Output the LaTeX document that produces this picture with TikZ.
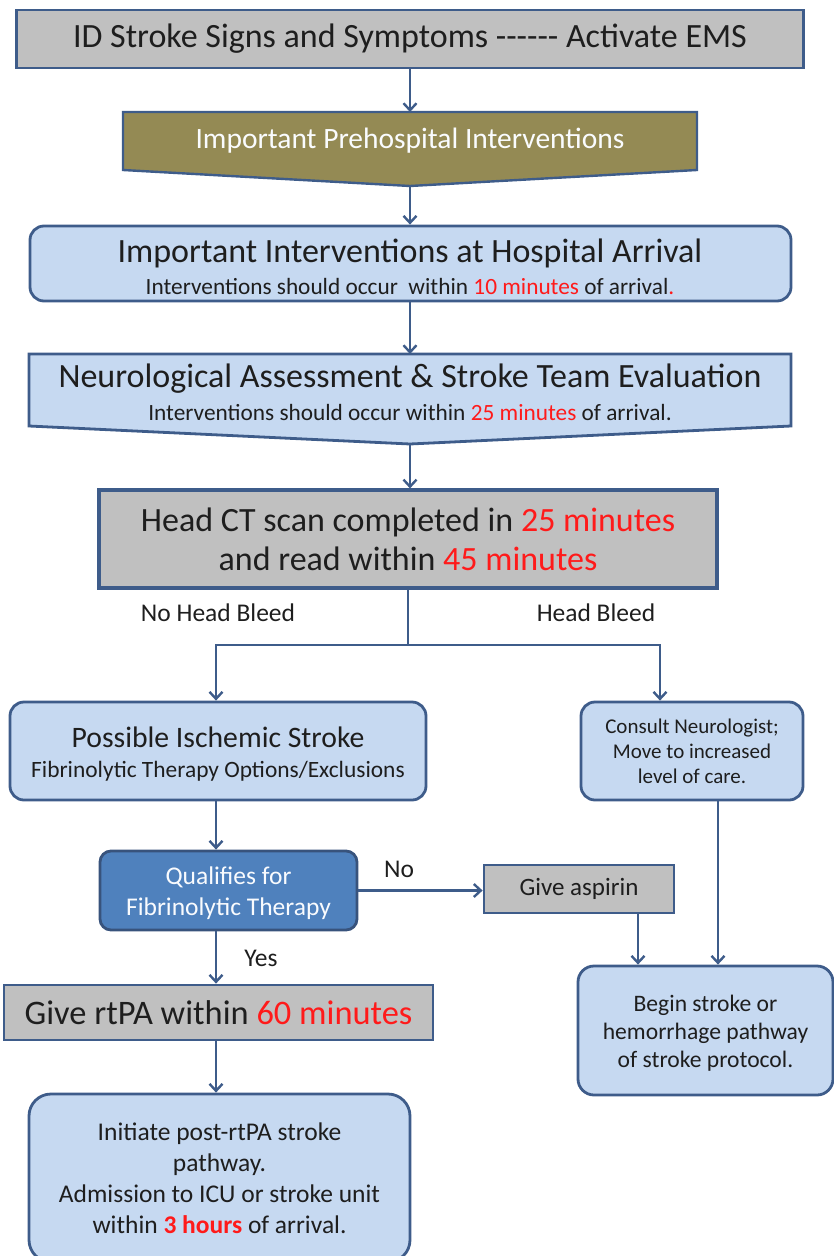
\documentclass[tikz,border=0pt]{standalone}
\usepackage{fontspec}
\setmainfont{Carlito}
\usetikzlibrary{arrows.meta}
\definecolor{edge}{HTML}{3E5C8A}
\definecolor{paleblue}{HTML}{C6D9F1}
\definecolor{greybox}{HTML}{C0C0C0}
\definecolor{olivebox}{HTML}{948A54}
\definecolor{midblue}{HTML}{4F81BD}
\definecolor{alert}{HTML}{FF1A1A}
\definecolor{ink}{HTML}{1E1E1E}
% font size with a chosen line pitch
\newcommand{\fs}[2]{\fontsize{#1}{#2}\selectfont}
\begin{document}
\begin{tikzpicture}[x=1pt,y=-1pt,
  frame/.style={draw=edge, line width=2.8pt, inner sep=0pt, align=center, text=ink},
  greyrect/.style={frame, fill=greybox},
  bluerounded/.style={frame, fill=paleblue, rounded corners=14pt},
  flow/.style={draw=edge, line width=2.4pt, -{Straight Barb[length=7pt,width=13pt]}},
  plain/.style={draw=edge, line width=2.4pt},
  words/.style={inner sep=0pt, text=ink, align=center},
  tag/.style={words, font=\fs{25.5}{26}},
]
\useasboundingbox (0,0) rectangle (834,1256);
\clip (0,0) rectangle (834,1256);

% column positions of the vertical connectors
\coordinate (colL) at (216,0);
\coordinate (colM) at (410,0);
\coordinate (colH) at (660,0);
\coordinate (colA) at (638,0);
\coordinate (colR) at (718,0);

% top banner
\node[greyrect, minimum width=787pt, minimum height=58pt, font=\fs{34}{34}] (ems) at (410,39)
  {ID Stroke Signs and Symptoms -{}-{}-{}-{}-{}- Activate EMS};

% prehospital chevron
\path[fill=olivebox, draw=edge, line width=2.4pt]
  (123,112) -- (697,112) -- (697,170) -- (410,186) -- (123,170) -- cycle;
\coordinate (preTop) at (410,112);
\coordinate (preTip) at (410,186);
\node[words, text=white!92!paleblue, font=\fs{29.5}{30}] (pre) at (410,141)
  {Important Prehospital Interventions};

% hospital arrival
\node[bluerounded, minimum width=761pt, minimum height=75pt] (arrival) at (410.5,263.5) {};
\node[words, font=\fs{34}{34}] (arrivalT) at (410,253) {Important Interventions at Hospital Arrival};
\node[words, font=\fs{23.3}{24}] (arrivalS) at (410,286)
  {Interventions should occur \ within \textcolor{alert}{10 minutes} of arrival\textcolor{alert}{.}};

% neurological assessment chevron
\path[fill=paleblue, draw=edge, line width=2.8pt]
  (29,354) -- (791,354) -- (791,426) -- (410,444) -- (29,426) -- cycle;
\coordinate (neuroTop) at (410,354);
\coordinate (neuroTip) at (410,444);
\node[words, font=\fs{34}{34}] (neuroT) at (410,379) {Neurological Assessment \& Stroke Team Evaluation};
\node[words, font=\fs{23.3}{24}] (neuroS) at (410,412)
  {Interventions should occur within \textcolor{alert}{25 minutes} of arrival.};

% CT scan
\node[greyrect, line width=3.2pt, minimum width=618pt, minimum height=98pt, font=\fs{34}{39}] (ct) at (408,539)
  {Head CT scan completed in \textcolor{alert}{25 minutes}\\
   and read within \textcolor{alert}{45 minutes}};

% branch results
\node[bluerounded, minimum width=416pt, minimum height=98pt] (possible) at (218,751) {};
\node[words, font=\fs{29.7}{30}] (possibleT) at (218,737) {Possible Ischemic Stroke};
\node[words, font=\fs{23.4}{24}] (possibleS) at (218,771) {Fibrinolytic Therapy Options/Exclusions};

\node[bluerounded, minimum width=222pt, minimum height=98pt, font=\fs{21}{25}] (consult) at (692,751)
  {Consult Neurologist;\\ Move to increased\\ level of care.};

% decision
\node[frame, draw=edge!90!black, fill=midblue, rounded corners=11pt,
  minimum width=257pt, minimum height=79pt] (qualifies) at (228.5,890.5) {};
\node[words, text=white!90!paleblue, font=\fs{25.5}{31}] (qualifiesT) at (228.5,893.5)
  {Qualifies for\\ Fibrinolytic Therapy};

\node[greyrect, minimum width=190pt, minimum height=48pt, font=\fs{25}{25}] (aspirin) at (579,889)
  {Give aspirin};

\node[bluerounded, rounded corners=16pt, minimum width=255pt, minimum height=129pt] (begin) at (705.5,1030.5) {};
\node[words, font=\fs{23.6}{28}] (beginT) at (705.5,1033.5)
  {Begin stroke or\\ hemorrhage pathway\\ of stroke protocol.};

\node[greyrect, minimum width=429pt, minimum height=55pt, font=\fs{34.4}{35}] (rtpa) at (218.5,1012.5)
  {Give rtPA within \textcolor{alert}{60 minutes}};

\node[bluerounded, rounded corners=22pt, minimum width=381pt, minimum height=168pt, font=\fs{25.5}{31}] (initiate) at (219.5,1178)
  {Initiate post-rtPA stroke\\ pathway.\\ Admission to ICU or stroke unit\\
   within \textcolor{alert}{\textbf{3 hours}} of arrival.};

% labels on connectors
\node[tag] (noBleed) at (218,613) {No Head Bleed};
\node[tag] (bleed) at (596,613) {Head Bleed};
\node[tag] (noLbl) at (399,869) {No};
\node[tag] (yesLbl) at (261,958) {Yes};

% connectors
\draw[flow] (ems.south -| colM) -- (preTop);
\draw[flow] (preTip) -- (arrival.north -| colM);
\draw[flow] (arrival.south -| colM) -- (neuroTop);
\draw[flow] (neuroTip) -- (ct.north -| colM);
\coordinate (split) at (408,645);
\draw[plain] (ct.south) -- (split);
\draw[flow] (split) -| (possible.north -| colL);
\draw[flow] (split) -| (consult.north -| colH);
\draw[flow] (possible.south -| colL) -- (qualifies.north -| colL);
\draw[flow] (qualifies.east) -- (qualifies.east -| aspirin.west);
\draw[flow] (aspirin.south -| colA) -- (begin.north -| colA);
\draw[flow] (consult.south -| colR) -- (begin.north -| colR);
\draw[flow] (qualifies.south -| colL) -- (rtpa.north -| colL);
\draw[flow] (rtpa.south -| colL) -- (initiate.north -| colL);
\end{tikzpicture}
\end{document}
